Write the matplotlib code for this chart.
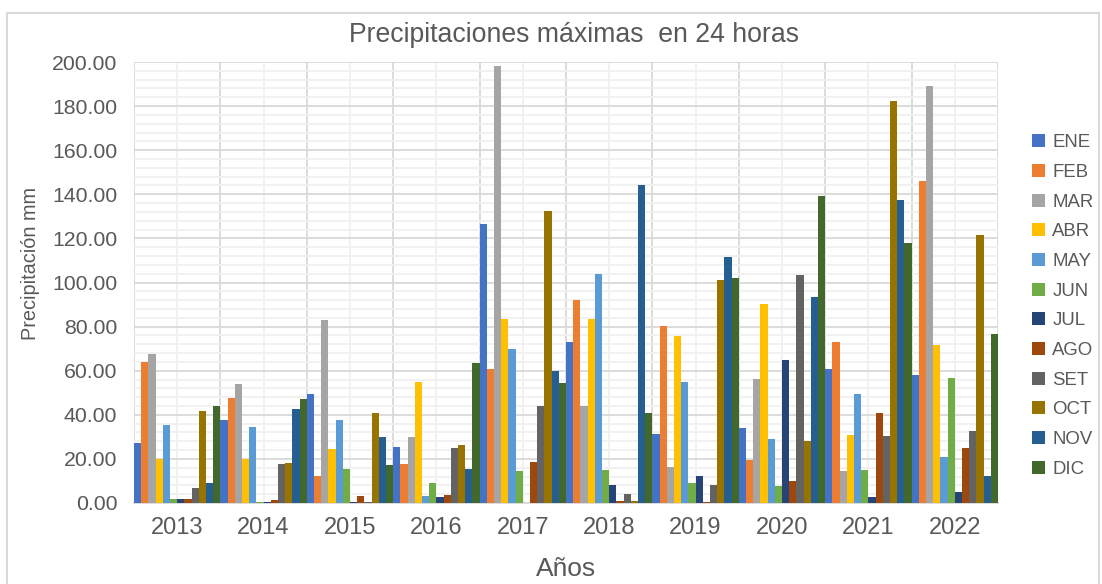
import matplotlib.pyplot as plt
import numpy as np
from matplotlib.patches import Rectangle

plt.rcParams['font.family'] = ['Liberation Sans', 'DejaVu Sans']

years = ["2013", "2014", "2015", "2016", "2017", "2018", "2019", "2020", "2021", "2022"]
months = ["ENE", "FEB", "MAR", "ABR", "MAY", "JUN", "JUL", "AGO", "SET", "OCT", "NOV", "DIC"]

# max 24h precipitation (mm), one list per month, one value per year
ene = [27.0, 37.6, 49.4, 25.4, 126.5, 72.8, 31.3, 34.0, 60.9, 57.9]
feb = [63.8, 47.8, 12.1, 17.7, 60.8, 92.0, 80.1, 19.3, 72.8, 146.2]
mar = [67.8, 54.0, 83.0, 30.1, 198.0, 44.1, 16.1, 56.4, 14.6, 189.1]
abr = [19.8, 20.0, 24.6, 55.0, 83.3, 83.4, 75.7, 90.4, 30.8, 71.7]
may = [35.2, 34.3, 37.8, 3.3, 69.8, 103.9, 55.0, 29.2, 49.3, 20.7]
jun = [2.0, 0.5, 15.6, 9.0, 14.6, 15.1, 9.2, 7.7, 15.0, 56.7]
jul = [1.8, 0.3, 0.6, 2.5, 0.0, 8.0, 12.4, 64.9, 2.5, 5.1]
ago = [1.8, 1.4, 3.3, 3.8, 18.7, 1.0, 0.3, 9.8, 41.0, 24.9]
sep = [7.0, 17.7, 0.6, 24.9, 44.0, 4.1, 8.3, 103.2, 30.2, 32.7]
octu = [41.9, 18.3, 40.8, 26.4, 132.6, 0.8, 101.3, 28.3, 182.1, 121.4]
nov = [9.0, 42.6, 29.8, 15.6, 60.0, 144.2, 111.4, 93.6, 137.2, 12.1]
dic = [43.8, 47.2, 17.1, 63.5, 54.4, 40.8, 101.9, 139.4, 117.7, 76.6]

series = [ene, feb, mar, abr, may, jun, jul, ago, sep, octu, nov, dic]
colors = ["#4472C4", "#ED7D31", "#A5A5A5", "#FFC000", "#5B9BD5", "#70AD47",
          "#264478", "#9E480E", "#636363", "#997300", "#255E91", "#43682B"]

txt = "#595959"
fig = plt.figure(figsize=(11.02, 5.84), dpi=100)
ax = fig.add_axes([134 / 1102, 1 - 503 / 584, 864 / 1102, 441 / 584])

x = np.arange(len(years))
w = 1 / 12
for j, (vals, c, m) in enumerate(zip(series, colors, months)):
    ax.bar(x + (j - 5.5) * w, vals, width=w, color=c, label=m, zorder=3)

ax.set_xlim(-0.5, len(years) - 0.5)
ax.set_ylim(0, 200)
ax.set_yticks(np.arange(0, 201, 20))
ax.set_yticks(np.arange(0, 201, 4), minor=True)
ax.set_yticklabels([f"{v:.2f}" for v in np.arange(0, 201, 20)], fontsize=15.3, color=txt)
ax.set_xticks(x)
ax.set_xticklabels(years, fontsize=17, color=txt)
ax.set_xticks(np.arange(-0.5, len(years), 1), minor=True)
ax.tick_params(which="both", length=0)
ax.tick_params(axis="y", pad=12)
ax.tick_params(axis="x", pad=10)

ax.grid(axis="y", which="major", color="#D9D9D9", lw=1.3, zorder=1)
ax.grid(axis="y", which="minor", color="#F0F0F0", lw=1.3, zorder=0)
ax.grid(axis="x", which="minor", color="#D9D9D9", lw=1.3, zorder=1)
ax.grid(axis="x", which="major", color="#F0F0F0", lw=1.3, zorder=0)
for s in ["top", "right", "left"]:
    ax.spines[s].set_visible(False)
ax.spines["bottom"].set_color("#D9D9D9")
ax.spines["bottom"].set_linewidth(1.3)

fig.text(574 / 1102, 1 - 35 / 584, "Precipitaciones máximas  en 24 horas",
         ha="center", va="center", fontsize=19.2, color=txt)
fig.text(31 / 1102, 1 - 263 / 584, "Precipitación mm", rotation=90,
         ha="center", va="center", fontsize=14.3, color=txt)
fig.text(566 / 1102, 1 - 569 / 584, "Años", ha="center", va="center",
         fontsize=19, color=txt)

leg = ax.legend(loc="center left", bbox_to_anchor=(1015 / 1102, 1 - 306 / 584),
                bbox_transform=fig.transFigure, frameon=False, fontsize=13.4,
                labelcolor=txt, handlelength=0.7, handleheight=0.7,
                handletextpad=0.4, labelspacing=0.68)

fig.patches.append(Rectangle((7 / 1102, -0.02), 1092 / 1102, 1 - 13 / 584 + 0.02,
                             transform=fig.transFigure, fill=False,
                             edgecolor="#D9D9D9", lw=1.5))

fig.savefig("out.png", dpi=100)
